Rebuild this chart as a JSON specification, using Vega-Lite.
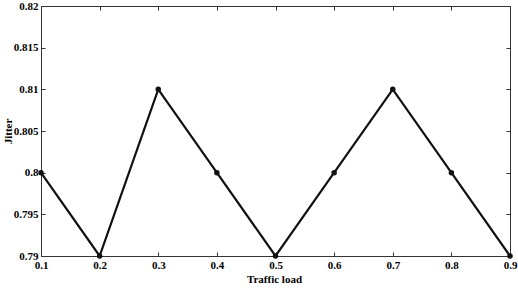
{
  "$schema": "https://vega.github.io/schema/vega-lite/v6.json",
  "width": 469,
  "height": 250,
  "autosize": {"type": "none"},
  "padding": {"left": 41, "top": 6, "right": 8, "bottom": 32},
  "background": "white",
  "config": {
    "view": {"stroke": "#333", "strokeWidth": 1},
    "font": "Liberation Serif",
    "axis": {
      "labelFont": "Liberation Serif",
      "titleFont": "Liberation Serif",
      "labelFontWeight": "bold",
      "titleFontWeight": "bold",
      "labelFontSize": 11,
      "titleFontSize": 11,
      "labelColor": "#000",
      "titleColor": "#000",
      "domainColor": "#333",
      "tickColor": "#333",
      "grid": false
    }
  },
  "data": {"values": [
    {"load": 0.1, "jitter": 0.80},
    {"load": 0.2, "jitter": 0.79},
    {"load": 0.3, "jitter": 0.81},
    {"load": 0.4, "jitter": 0.80},
    {"load": 0.5, "jitter": 0.79},
    {"load": 0.6, "jitter": 0.80},
    {"load": 0.7, "jitter": 0.81},
    {"load": 0.8, "jitter": 0.80},
    {"load": 0.9, "jitter": 0.79}
  ]},
  "resolve": {"axis": {"x": "independent", "y": "independent"}},
  "layer": [
    {
      "mark": {"type": "line", "color": "#111", "strokeWidth": 2.2, "clip": false},
      "encoding": {
        "x": {"field": "load", "type": "quantitative",
          "scale": {"domain": [0.1, 0.9], "nice": false, "zero": false},
          "axis": {"title": "Traffic load", "values": [0.1,0.2,0.3,0.4,0.5,0.6,0.7,0.8,0.9],
            "labelExpr": "format(datum.value, '.1f')", "ticks": false, "labelPadding": 3,
            "titleY": 17, "titleBaseline": "top", "titleX": 233,
            "labelFlush": false}},
        "y": {"field": "jitter", "type": "quantitative",
          "scale": {"domain": [0.79, 0.82], "nice": false, "zero": false},
          "axis": {"title": "Jitter", "values": [0.79,0.795,0.8,0.805,0.81,0.815,0.82],
            "labelExpr": "format(datum.value, '~g')", "ticks": false, "labelPadding": 3,
            "titleX": -33, "titleY": 125, "titleBaseline": "middle",
            "labelFlush": false}}
      }
    },
    {
      "mark": {"type": "point", "filled": true, "color": "#111", "size": 30, "opacity": 1, "clip": false},
      "encoding": {
        "x": {"field": "load", "type": "quantitative",
          "axis": {"orient": "top", "title": null, "labels": false, "tickSize": -4,
            "values": [0.1,0.2,0.3,0.4,0.5,0.6,0.7,0.8,0.9]}},
        "y": {"field": "jitter", "type": "quantitative",
          "axis": {"orient": "right", "title": null, "labels": false, "tickSize": -4,
            "values": [0.79,0.795,0.8,0.805,0.81,0.815,0.82]}}
      }
    },
    {
      "mark": {"type": "point", "filled": true, "color": "#111", "size": 30, "opacity": 0, "clip": false},
      "encoding": {
        "x": {"field": "load", "type": "quantitative",
          "axis": {"orient": "bottom", "title": null, "labels": false, "tickSize": -4, "domain": false,
            "values": [0.1,0.2,0.3,0.4,0.5,0.6,0.7,0.8,0.9]}},
        "y": {"field": "jitter", "type": "quantitative",
          "axis": {"orient": "left", "title": null, "labels": false, "tickSize": -4, "domain": false,
            "values": [0.79,0.795,0.8,0.805,0.81,0.815,0.82]}}
      }
    }
  ]
}
